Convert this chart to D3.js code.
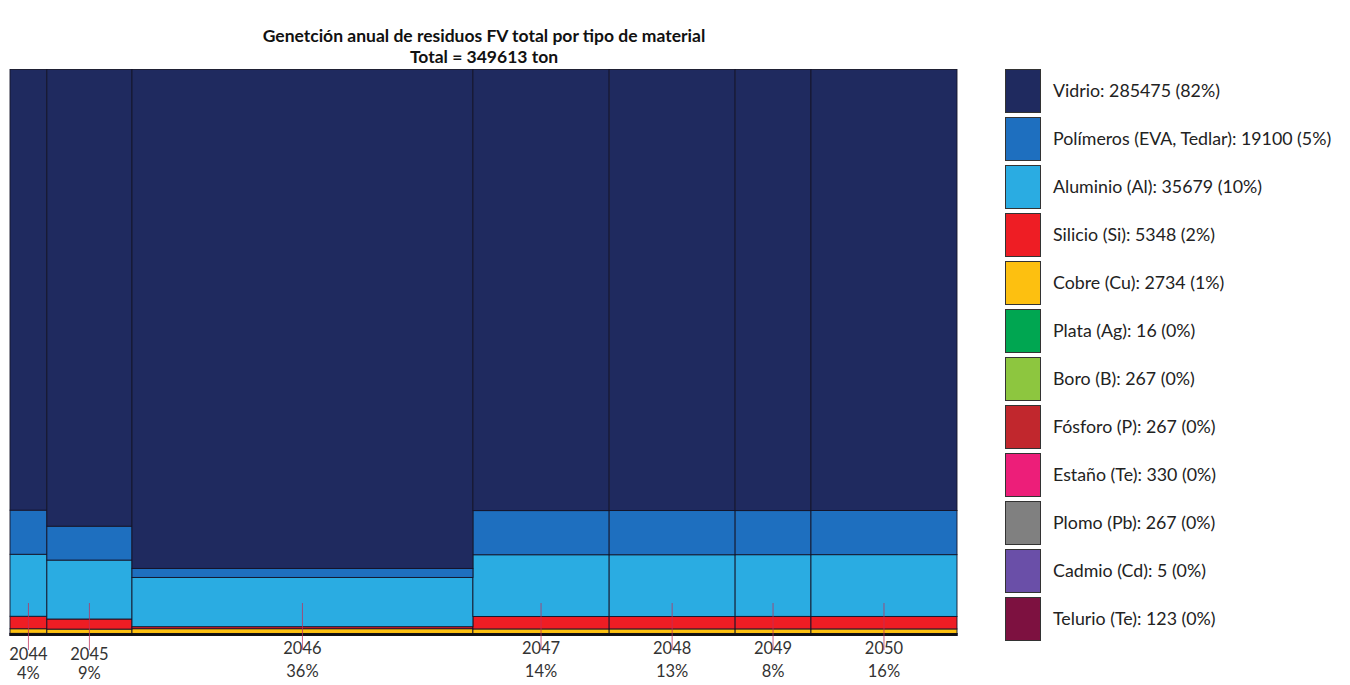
<!DOCTYPE html>
<html><head><meta charset="utf-8">
<script src="https://cdn.jsdelivr.net/npm/d3@7"></script>
<style>body{margin:0;background:#fff}svg{display:block}</style>
</head><body>
<svg id="c" width="1350" height="685"></svg>
<script>
// ---- data ----
const years = ["2044","2045","2046","2047","2048","2049","2050"];
const yearPctLabels = ["4%","9%","36%","14%","13%","8%","16%"];
const materials = ["Vidrio","Polímeros (EVA, Tedlar)","Aluminio (Al)","Silicio (Si)","Cobre (Cu)","Plata (Ag)","Boro (B)","Fósforo (P)","Estaño (Te)","Plomo (Pb)","Cadmio (Cd)","Telurio (Te)"];
const legendTotals = [285475,19100,35679,5348,2734,16,267,267,330,267,5,123];
const legendPcts = ["82%","5%","10%","2%","1%","0%","0%","0%","0%","0%","0%","0%"];
const colors = ["#1f2a5f","#1e6fbf","#2aace2","#ee1d24","#fdc010","#00a651","#8dc63f","#c1272d","#ed1e79","#808080","#6a4fa8","#7d1140"];
// tons per year, per material (cols = years)
const vidrio    = [10590,25340,110900,39180,36220,21810,41990];
const polimeros = [1060,1880,2000,3920,3630,2180,4200];
const aluminio  = [1490,3270,10950,5480,5070,3050,5880];
const silicio   = [300,560,450,1110,1020,620,1190];
const cobre     = [110,240,1050,400,370,225,430];
const plata     = [1,1.5,6,2.3,2,1.3,2.5];
const boro      = [11,24,96,38,36,21,41];
const fosforo   = [11,24,96,38,36,21,41];
const estano    = [13,30,119,48,44,26,51];
const plomo     = [11,24,96,38,36,21,41];
const cadmio    = [0.2,0.5,2,0.7,0.7,0.4,0.8];
const telurio   = [5,11,44,18,16,10,19];
const title1 = "Genetción anual de residuos FV total por tipo de material";
const title2 = "Total = 349613 ton";

// ---- build ----
const series = [vidrio,polimeros,aluminio,silicio,cobre,plata,boro,fosforo,estano,plomo,cadmio,telurio];
const rows = years.map((y,i)=>{const o={year:y}; materials.forEach((m,j)=>o[m]=series[j][i]); o.total=d3.sum(series,s=>s[i]); return o;});
const cum = [0,...d3.cumsum(rows,d=>d.total)];
rows.forEach((r,i)=>{r.x0=cum[i]; r.x1=cum[i+1];});

const svg = d3.select("#c");
const font = "Lato, 'Open Sans', sans-serif";
const L=10, R=957, T=69.5, B=635.5;
const x = d3.scaleLinear().domain([0,cum[cum.length-1]]).range([L,R]);
const y = d3.scaleLinear().domain([0,1]).range([B,T]);
const color = d3.scaleOrdinal().domain(materials).range(colors);

const stack = d3.stack().keys(materials.slice().reverse()).offset(d3.stackOffsetExpand);
const layers = stack(rows);

svg.append("g").selectAll("g").data(layers).join("g")
  .attr("fill",d=>color(d.key))
  .selectAll("rect").data(d=>d).join("rect")
  .attr("x",d=>x(d.data.x0)).attr("width",d=>x(d.data.x1)-x(d.data.x0))
  .attr("y",d=>y(d[1])).attr("height",d=>Math.max(0,y(d[0])-y(d[1])))
  .attr("stroke","#141428").attr("stroke-width",0.9);

// bottom dark edge
svg.append("line").attr("x1",L).attr("x2",R).attr("y1",B-1).attr("y2",B-1).attr("stroke","#111").attr("stroke-width",2.5);

// ticks & labels
const g = svg.append("g").attr("font-family",font).attr("fill","#333").attr("text-anchor","middle");
rows.forEach((r,i)=>{
  const cx = x((r.x0+r.x1)/2);
  svg.append("line").attr("x1",cx).attr("x2",cx).attr("y1",603).attr("y2",650)
    .attr("stroke","#c0305a").attr("stroke-width",1).attr("opacity",0.75);
  g.append("text").attr("x",cx).attr("y",i<2 ? 660 : 654).attr("font-size",16.5).text(r.year);
  g.append("text").attr("x",cx).attr("y",i<2 ? 679 : 677).attr("font-size",16.5).text(yearPctLabels[i]);
});

// title
const tg = svg.append("g").attr("font-family",font).attr("font-weight","bold").attr("font-size",17.5).attr("fill","#111").attr("text-anchor","middle");
tg.append("text").attr("x",484).attr("y",42).text(title1);
tg.append("text").attr("x",484).attr("y",63).text(title2);

// legend
const lg = svg.append("g").attr("font-family",font);
materials.forEach((m,i)=>{
  const top = 69 + i*48;
  lg.append("rect").attr("x",1005.5).attr("y",top+0.5).attr("width",35).attr("height",43)
    .attr("fill",color(m)).attr("stroke","#333").attr("stroke-width",1);
  lg.append("text").attr("x",1053).attr("y",top+22).attr("dy","0.35em").attr("font-size",17.8).attr("fill","#222")
    .text(`${m}: ${legendTotals[i]} (${legendPcts[i]})`);
});
</script>
</body></html>
